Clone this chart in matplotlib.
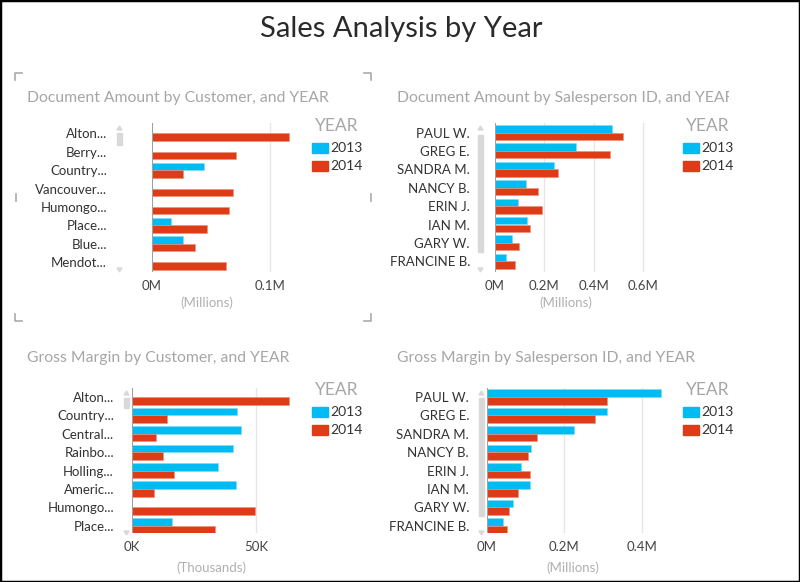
import matplotlib.pyplot as plt
import numpy as np
from matplotlib.patches import Rectangle, Polygon
from matplotlib.lines import Line2D
from matplotlib.transforms import Bbox, TransformedBbox

W, H = 800, 582
C13 = '#00BCF2'
C14 = '#DD3C17'
GREY = '#A6A6A6'
FONT = ['Lato', 'DejaVu Sans']

plt.rcParams['font.family'] = FONT

# data
years = ['2013', '2014']

cust_doc = ['Alton...', 'Berry...', 'Country...', 'Vancouver...',
            'Humongo...', 'Place...', 'Blue...', 'Mendot...']
cust_doc_13 = [0, 0, 0.044, 0, 0, 0.0163, 0.0262, 0]
cust_doc_14 = [0.1155, 0.0707, 0.0262, 0.0685, 0.0654, 0.0468, 0.0366, 0.0628]

sales_people = ['PAUL W.', 'GREG E.', 'SANDRA M.', 'NANCY B.',
                'ERIN J.', 'IAN M.', 'GARY W.', 'FRANCINE B.']
sp_doc_13 = [0.476, 0.330, 0.239, 0.124, 0.093, 0.128, 0.069, 0.045]
sp_doc_14 = [0.518, 0.468, 0.257, 0.173, 0.191, 0.142, 0.096, 0.080]

cust_gm = ['Alton...', 'Country...', 'Central...', 'Rainbo...',
           'Holling...', 'Americ...', 'Humongo...', 'Place...']
cust_gm_13 = [0, 42.5, 43.8, 40.5, 34.5, 41.8, 0, 16.1]
cust_gm_14 = [63.4, 14.1, 9.5, 12.6, 16.8, 8.9, 49.7, 33.5]

sp_gm_13 = [0.449, 0.310, 0.225, 0.114, 0.088, 0.110, 0.066, 0.042]
sp_gm_14 = [0.311, 0.280, 0.130, 0.106, 0.110, 0.081, 0.058, 0.051]


def fx(x):
    return x / W


def fy(y):
    return 1 - y / H


fig = plt.figure(figsize=(8, 5.82), dpi=100)
fig.patches.append(Rectangle((0, 0), 1, 1, transform=fig.transFigure,
                             fill=False, edgecolor='black', linewidth=2.5))

fig.text(fx(401), fy(29), 'Sales Analysis by Year', ha='center', va='center',
         fontsize=21, color='#2a2a2a')


def panel(rect, center0, xlim, ticks, tlabels, cats, v13, v14, title,
          tpos, unit, upos, lpad, sbar, legx, legy):
    l, r, t, b = rect
    ax = fig.add_axes([fx(l), fy(b), fx(r - l), (b - t) / H])
    step = 18.4
    y = np.arange(len(cats))
    h = 0.41
    ax.barh(y - h / 2, v13, height=h, color=C13, edgecolor='#7fdcf8', linewidth=0.4)
    ax.barh(y + h / 2, v14, height=h, color=C14, edgecolor='#ec8e78', linewidth=0.4)
    ax.set_ylim(len(cats) - 1 + (b - center0 - (len(cats) - 1) * step) / step,
                -(center0 - t) / step)
    ax.set_xlim(*xlim)
    ax.set_yticks(y)
    ax.set_yticklabels(cats, fontsize=9.5, color='#333333')
    ax.set_xticks(ticks)
    ax.set_xticklabels(tlabels, fontsize=9.5, color='#444444')
    ax.tick_params(length=0)
    ax.tick_params(axis='y', pad=lpad * 0.72)
    ax.tick_params(axis='x', pad=6)
    for s in ax.spines.values():
        s.set_visible(False)
    for tk in ticks[1:]:
        ax.axvline(tk, color='#E6E6E6', linewidth=1, zorder=0)
    ax.axvline(0, color='#A0A0A0', linewidth=1.5, zorder=3)

    txt = fig.text(fx(tpos[0]), fy(tpos[1]), title, ha='left', va='center',
                   fontsize=11.3, color=GREY)
    txt.set_clip_box(TransformedBbox(Bbox.from_extents(0, 0, fx(729), 1),
                                     fig.transFigure))
    txt.set_clip_on(True)
    fig.text(fx(upos[0]), fy(upos[1]), unit, ha='center', va='center',
             fontsize=9.5, color='#B0B0B0')

    # scroll bar
    sx, st, sb, ua, da = sbar
    fig.patches.append(Rectangle((fx(sx - 2.5), fy(sb)), fx(5), (sb - st) / H,
                                 transform=fig.transFigure, color='#D9D9D9'))
    fig.patches.append(Polygon([(fx(sx - 2.5), fy(ua + 2)), (fx(sx + 2.5), fy(ua + 2)),
                                (fx(sx), fy(ua - 2))], transform=fig.transFigure,
                               color='#D9D9D9'))
    fig.patches.append(Polygon([(fx(sx - 2.5), fy(da - 2)), (fx(sx + 2.5), fy(da - 2)),
                                (fx(sx), fy(da + 2))], transform=fig.transFigure,
                               color='#D9D9D9'))

    # legend
    fig.text(fx(legx + 3), fy(legy), 'YEAR', ha='left', va='center',
             fontsize=12.5, color=GREY)
    for i, (yr, c) in enumerate(zip(years, [C13, C14])):
        yy = legy + 22 + i * 18
        fig.patches.append(Rectangle((fx(legx), fy(yy + 5)), fx(16), 10 / H,
                                     transform=fig.transFigure, color=c))
        fig.text(fx(legx + 18), fy(yy), yr, ha='left', va='center',
                 fontsize=10, color='#333333')
    return ax


panel((152, 300, 123, 272), 133.3, (0, 0.125), [0, 0.1], ['0M', '0.1M'],
      cust_doc, cust_doc_13, cust_doc_14, 'Document Amount by Customer, and YEAR',
      (27, 98), '(Millions)', (207, 303), 45, (119.5, 133, 145, 128, 270), 312, 126)

panel((495, 646, 123, 272), 132.5, (0, 0.6126), [0, 0.2, 0.4, 0.6],
      ['0M', '0.2M', '0.4M', '0.6M'],
      sales_people, sp_doc_13, sp_doc_14, 'Document Amount by Salesperson ID, and YEAR',
      (397, 98), '(Millions)', (566, 303), 25, (480.5, 135, 252, 128, 270), 683, 126)

panel((132, 300, 388, 533), 397, (0, 67.7), [0, 50], ['0K', '50K'],
      cust_gm, cust_gm_13, cust_gm_14, 'Gross Margin by Customer, and YEAR',
      (27, 358), '(Thousands)', (211, 568), 18, (126.5, 398, 408, 393, 533), 312, 390)

panel((487, 669, 388, 533), 397, (0, 0.47), [0, 0.2, 0.4], ['0M', '0.2M', '0.4M'],
      sales_people, sp_gm_13, sp_gm_14, 'Gross Margin by Salesperson ID, and YEAR',
      (397, 358), '(Millions)', (573, 568), 18, (481.5, 398, 516, 393, 533), 683, 390)

# focus brackets around the first visual
for (x0, y0, dx, dy) in [(15, 73, 1, 1), (371, 73, -1, 1), (15, 321, 1, -1), (371, 321, -1, -1)]:
    fig.lines.append(Line2D([fx(x0 + 7 * dx), fx(x0), fx(x0)],
                            [fy(y0), fy(y0), fy(y0 + 7 * dy)],
                            transform=fig.transFigure, color='#AAAAAA', linewidth=1.2))
for (x0, y0, x1, y1) in [(15.5, 194, 15.5, 201), (370.5, 194, 370.5, 201)]:
    fig.lines.append(Line2D([fx(x0), fx(x1)], [fy(y0), fy(y1)],
                            transform=fig.transFigure, color='#AAAAAA', linewidth=1.2))

fig.savefig('out.png', dpi=100)
